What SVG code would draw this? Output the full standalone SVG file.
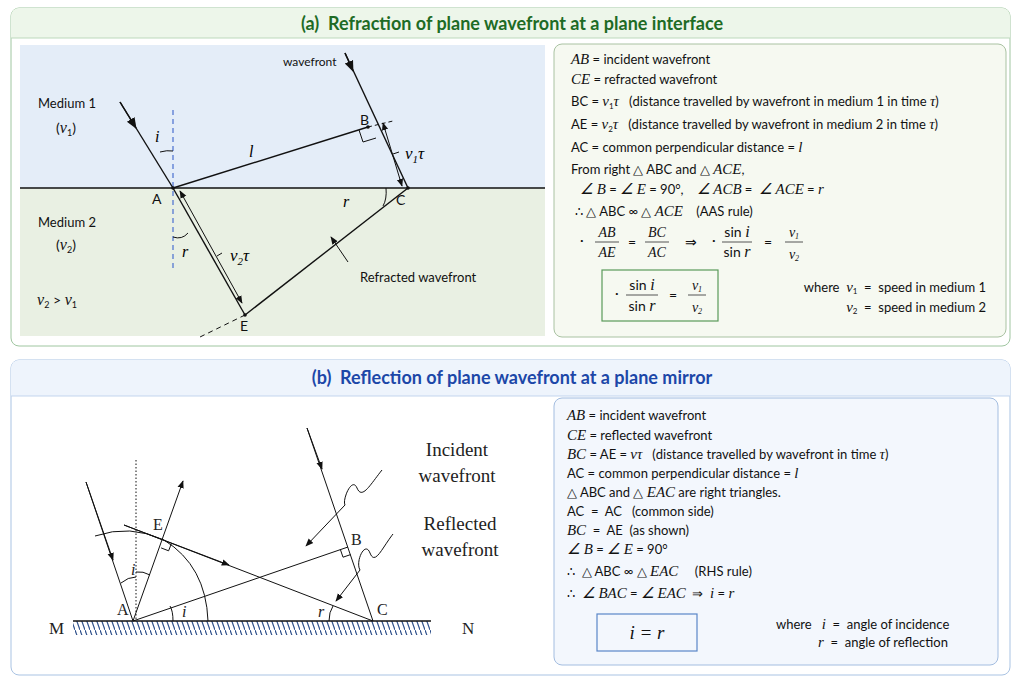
<svg xmlns="http://www.w3.org/2000/svg" width="1024" height="683" viewBox="0 0 1024 683" xml:space="preserve">
<style>
text{white-space:pre}
.t{font-family:Lato,"Open Sans",sans-serif;font-size:13px;fill:#111}
.m{font-family:"Liberation Serif",serif;font-style:italic}
tspan.m{font-size:1.15em}
.lb{font-family:Lato,sans-serif;font-size:14px;fill:#111}
.sf{font-family:"Liberation Serif",serif;font-size:19px;fill:#222}
.ln{stroke:#111;stroke-width:1.4;fill:none}
.th{stroke:#111;stroke-width:1;fill:none}
</style>
<defs>
<marker id="ah" viewBox="0 0 10 10" refX="9" refY="5" markerWidth="8" markerHeight="8" orient="auto-start-reverse"><path d="M0,1 L10,5 L0,9 z" fill="#111"/></marker>
<pattern id="hatch" width="5" height="14" patternUnits="userSpaceOnUse"><path d="M0,0 L5,14" stroke="#2d4f8a" stroke-width="1.2"/></pattern>
</defs>
<rect width="1024" height="683" fill="#fff"/>
<g id="panelA">
<rect x="11" y="8" width="999" height="338" rx="8" fill="#fff" stroke="#9fc6a0"/>
<path d="M11,38 V16 a8,8 0 0 1 8,-8 H1002 a8,8 0 0 1 8,8 V38 z" fill="#edf6ea"/>
<line x1="11" y1="38" x2="1010" y2="38" stroke="#bcd9bc"/>
<text x="512" y="30" text-anchor="middle" font-family="Lato,sans-serif" font-size="18" font-weight="bold" fill="#1e6b25">(a)  Refraction of plane wavefront at a plane interface</text>
<rect x="20" y="45" width="525" height="143" fill="#e4edf8"/>
<rect x="20" y="188" width="525" height="148" fill="#e9f0e3"/>
</g>
<g id="connectorsA">
<line x1="20" y1="188" x2="545" y2="188" class="ln"/>
<line x1="173" y1="110" x2="173" y2="270" stroke="#4a6fd0" stroke-width="1.2" stroke-dasharray="5,4"/>
<line x1="120" y1="102" x2="173" y2="188" class="ln"/>
<line x1="120" y1="102" x2="136" y2="128" class="ln" marker-end="url(#ah)"/>
<line x1="345" y1="53" x2="408" y2="188" class="ln"/>
<line x1="345" y1="53" x2="353" y2="71" class="ln" marker-end="url(#ah)"/>
<line x1="173" y1="188" x2="368" y2="127" class="ln"/>
<line x1="368" y1="127" x2="393" y2="121" stroke="#111" stroke-dasharray="4,3"/>
<path d="M359,130 L363,142 L376,138" class="th"/>
<line x1="383" y1="123" x2="402" y2="186" class="th" marker-start="url(#ah)" marker-end="url(#ah)"/>
<line x1="393" y1="154" x2="399" y2="152" class="th"/>
<line x1="173" y1="188" x2="245" y2="315" class="ln"/>
<line x1="245" y1="315" x2="200" y2="337" stroke="#111" stroke-dasharray="5,4"/>
<line x1="180" y1="191" x2="242" y2="303" class="th" marker-start="url(#ah)" marker-end="url(#ah)"/>
<line x1="217" y1="256" x2="222" y2="253" class="th"/>
<line x1="408" y1="188" x2="245" y2="315" class="ln"/>
<line x1="348" y1="262" x2="331" y2="237" class="th" marker-end="url(#ah)"/>
<path d="M160,152 Q167,150 173,151" class="th"/>
<path d="M173,237 Q182,240 188,233" class="th"/>
<path d="M386,188 Q387,199 383,206" class="th"/>
<circle cx="368" cy="127" r="1.8" fill="#111"/>
<circle cx="245" cy="315" r="1.8" fill="#111"/>
<circle cx="173" cy="188" r="1.8" fill="#111"/>
<circle cx="408" cy="188" r="1.8" fill="#111"/>
</g>
<g id="labelsA">
<text x="283" y="66" class="t" style="font-size:12px">wavefront</text>
<text x="38" y="108" class="t">Medium 1</text>
<text x="56" y="133" class="t" style="font-size:14px">(<tspan class="m">v</tspan><tspan font-size="9" dy="3">1</tspan><tspan dy="-3">)</tspan></text>
<text x="38" y="227" class="t">Medium 2</text>
<text x="56" y="250" class="t" style="font-size:14px">(<tspan class="m">v</tspan><tspan font-size="9" dy="3">2</tspan><tspan dy="-3">)</tspan></text>
<text x="37" y="305" class="t" style="font-size:14px"><tspan class="m">v</tspan><tspan font-size="9" dy="3">2</tspan><tspan dy="-3"> &gt; </tspan><tspan class="m">v</tspan><tspan font-size="9" dy="3">1</tspan></text>
<text x="155" y="142" class="m" font-size="16">i</text>
<text x="249" y="157" class="m" font-size="16">l</text>
<text x="360" y="125" class="lb">B</text>
<text x="152" y="204" class="lb">A</text>
<text x="396" y="205" class="lb">C</text>
<text x="240" y="331" class="lb">E</text>
<text x="182" y="257" class="m" font-size="16">r</text>
<text x="343" y="207" class="m" font-size="16">r</text>
<text x="405" y="159" class="m" font-size="17">v<tspan font-size="11" dy="4">1</tspan><tspan dy="-4">τ</tspan></text>
<text x="230" y="261" class="m" font-size="17">v<tspan font-size="11" dy="4">2</tspan><tspan dy="-4">τ</tspan></text>
<text x="360" y="282" class="t">Refracted wavefront</text>
</g>
<g id="textA">
<rect x="554" y="44" width="452" height="293" rx="8" fill="#f6f9f1" stroke="#a9c2a2"/>
<text x="571" y="64" class="t"><tspan class="m">AB</tspan> = incident wavefront</text>
<text x="571" y="84" class="t"><tspan class="m">CE</tspan> = refracted wavefront</text>
<text x="571" y="106" class="t">BC = <tspan class="m">v</tspan><tspan font-size="8" dy="3">1</tspan><tspan dy="-3" class="m">τ</tspan>   (distance travelled by wavefront in medium 1 in time <tspan class="m">τ</tspan>)</text>
<text x="571" y="129" class="t">AE = <tspan class="m">v</tspan><tspan font-size="8" dy="3">2</tspan><tspan dy="-3" class="m">τ</tspan>   (distance travelled by wavefront in medium 2 in time <tspan class="m">τ</tspan>)</text>
<text x="571" y="152" class="t">AC = common perpendicular distance = <tspan class="m">l</tspan></text>
<text x="571" y="174" class="t">From right △ ABC and △ <tspan class="m">ACE</tspan>,</text>
<text x="580" y="194" class="t"><tspan class="m">∠ B</tspan> = <tspan class="m">∠ E</tspan> = 90°,    <tspan class="m">∠ ACB</tspan> =  <tspan class="m">∠ ACE</tspan> = <tspan class="m">r</tspan></text>
<text x="575" y="216" class="t">∴ △ ABC ∞ △ <tspan class="m">ACE</tspan>    (AAS rule)</text>
<g class="t" style="font-size:14px">
<text x="580" y="245">·</text>
<text x="607" y="237" text-anchor="middle" class="m">AB</text><line x1="595" y1="242" x2="619" y2="242" stroke="#555"/><text x="607" y="257" text-anchor="middle" class="m">AE</text>
<text x="632" y="247" text-anchor="middle">=</text>
<text x="657" y="237" text-anchor="middle" class="m">BC</text><line x1="645" y1="242" x2="669" y2="242" stroke="#555"/><text x="657" y="257" text-anchor="middle" class="m">AC</text>
<text x="691" y="247" text-anchor="middle">⇒</text>
<text x="712" y="245">·</text>
<text x="737" y="237" text-anchor="middle">sin <tspan class="m">i</tspan></text><line x1="722" y1="242" x2="752" y2="242" stroke="#555"/><text x="737" y="257" text-anchor="middle">sin <tspan class="m">r</tspan></text>
<text x="768" y="247" text-anchor="middle">=</text>
<text x="794" y="237" text-anchor="middle" class="m">v<tspan font-size="8" dy="2">1</tspan></text><line x1="785" y1="242" x2="803" y2="242" stroke="#555"/><text x="794" y="259" text-anchor="middle" class="m">v<tspan font-size="8" dy="2">2</tspan></text>
</g>
<rect x="602" y="270" width="116" height="51" fill="none" stroke="#5a9a5a" stroke-width="1.2"/>
<g class="t" style="font-size:14px">
<text x="615" y="298">·</text>
<text x="642" y="290" text-anchor="middle">sin <tspan class="m">i</tspan></text><line x1="626" y1="295" x2="658" y2="295" stroke="#555"/><text x="642" y="311" text-anchor="middle">sin <tspan class="m">r</tspan></text>
<text x="673" y="300" text-anchor="middle">=</text>
<text x="697" y="290" text-anchor="middle" class="m">v<tspan font-size="8" dy="2">1</tspan></text><line x1="688" y1="295" x2="706" y2="295" stroke="#555"/><text x="697" y="312" text-anchor="middle" class="m">v<tspan font-size="8" dy="2">2</tspan></text>
</g>
<text x="986" y="292" class="t" text-anchor="end">where  <tspan class="m">v</tspan><tspan font-size="8" dy="2">1</tspan><tspan dy="-2">  =  speed in medium 1</tspan></text>
<text x="986" y="312" class="t" text-anchor="end"><tspan class="m">v</tspan><tspan font-size="8" dy="2">2</tspan><tspan dy="-2">  =  speed in medium 2</tspan></text>
</g>
<g id="panelB">
<rect x="11" y="360" width="999" height="315" rx="8" fill="#fff" stroke="#a9c3e3"/>
<path d="M11,396 V368 a8,8 0 0 1 8,-8 H1002 a8,8 0 0 1 8,8 V396 z" fill="#eef4fc"/>
<line x1="11" y1="396" x2="1010" y2="396" stroke="#c3d5ee"/>
<text x="512" y="384" text-anchor="middle" font-family="Lato,sans-serif" font-size="18" font-weight="bold" fill="#1c47a8">(b)  Reflection of plane wavefront at a plane mirror</text>
</g>
<g id="connectorsB">
<rect x="73" y="621" width="358" height="14" fill="url(#hatch)"/>
<line x1="73" y1="621" x2="431" y2="621" class="ln"/>
<line x1="136" y1="460" x2="136" y2="620" stroke="#111" stroke-dasharray="1.5,2"/>
<line x1="86" y1="482" x2="133" y2="621" class="th"/>
<line x1="86" y1="482" x2="113" y2="560" class="th" marker-end="url(#ah)"/>
<line x1="133" y1="621" x2="183" y2="481" class="th" marker-end="url(#ah)"/>
<line x1="124" y1="525" x2="373" y2="621" class="th"/>
<line x1="124" y1="525" x2="229" y2="565" class="th" marker-end="url(#ah)"/>
<line x1="133" y1="621" x2="348" y2="547" class="th"/>
<line x1="307" y1="428" x2="373" y2="621" class="th"/>
<line x1="307" y1="428" x2="322" y2="469" class="th" marker-end="url(#ah)"/>
<path d="M95,536 Q130,524 164,540 Q206,566 208,621" class="th"/>
<path d="M161.1,547.9 L168.6,550.8 L171.5,543.3" class="th"/>
<path d="M340.4,549.6 L343,557.2 L350.6,554.6" class="th"/>
<path d="M121,583 Q128,577 136,577" class="th"/>
<path d="M136,572 Q143,571 150,575" class="th"/>
<path d="M173,621 Q173,611 170,606" class="th"/>
<path d="M329,621 Q329,612 333,606" class="th"/>
<path d="M382,470 C370,485 362,500 357,488 C352,476 342,500 345,505 L306,546" class="th" marker-end="url(#ah)"/>
<path d="M393,534 C382,548 375,566 370,553 C365,540 355,562 360,570 L336,601" class="th" marker-end="url(#ah)"/>
</g>
<g id="labelsB">
<text x="49" y="634" class="sf" style="font-size:17px">M</text>
<text x="462" y="634" class="sf" style="font-size:17px">N</text>
<text x="117" y="615" class="sf" style="font-size:16px">A</text>
<text x="377" y="615" class="sf" style="font-size:16px">C</text>
<text x="153" y="530" class="sf" style="font-size:16px">E</text>
<text x="351" y="545" class="sf" style="font-size:16px">B</text>
<text x="131" y="575" class="sf m" style="font-size:16px">i</text>
<text x="182" y="617" class="sf m" style="font-size:16px">i</text>
<text x="318" y="617" class="sf m" style="font-size:16px">r</text>
<text x="457" y="456" class="sf" text-anchor="middle">Incident</text>
<text x="457" y="482" class="sf" text-anchor="middle">wavefront</text>
<text x="460" y="530" class="sf" text-anchor="middle">Reflected</text>
<text x="460" y="556" class="sf" text-anchor="middle">wavefront</text>
</g>
<g id="textB">
<rect x="554" y="398" width="444" height="267" rx="8" fill="#f3f7fd" stroke="#a3bde0"/>
<text x="567" y="420" class="t"><tspan class="m">AB</tspan> = incident wavefront</text>
<text x="567" y="440" class="t"><tspan class="m">CE</tspan> = reflected wavefront</text>
<text x="567" y="459" class="t"><tspan class="m">BC</tspan> = AE = <tspan class="m">vτ</tspan>   (distance travelled by wavefront in time <tspan class="m">τ</tspan>)</text>
<text x="567" y="478" class="t">AC = common perpendicular distance = <tspan class="m">l</tspan></text>
<text x="567" y="497" class="t">△ ABC and △ <tspan class="m">EAC</tspan> are right triangles.</text>
<text x="567" y="516" class="t">AC  =  AC   (common side)</text>
<text x="567" y="535" class="t"><tspan class="m">BC</tspan>  =  AE  (as shown)</text>
<text x="567" y="554" class="t"><tspan class="m">∠ B</tspan> = <tspan class="m">∠ E</tspan> = 90°</text>
<text x="567" y="576" class="t">∴  △ ABC ∞ △ <tspan class="m">EAC</tspan>     (RHS rule)</text>
<text x="567" y="598" class="t">∴  <tspan class="m">∠ BAC</tspan> = <tspan class="m">∠ EAC</tspan>  ⇒  <tspan class="m">i</tspan> = <tspan class="m">r</tspan></text>
<rect x="597" y="614" width="100" height="37" fill="none" stroke="#5a86c8" stroke-width="1.2"/>
<text x="647" y="639" class="t m" style="font-size:19px" text-anchor="middle">i = r</text>
<text x="776" y="629" class="t">where   <tspan class="m">i</tspan>  =  angle of incidence</text>
<text x="818" y="647" class="t"><tspan class="m">r</tspan>  =  angle of reflection</text>
</g>
</svg>
